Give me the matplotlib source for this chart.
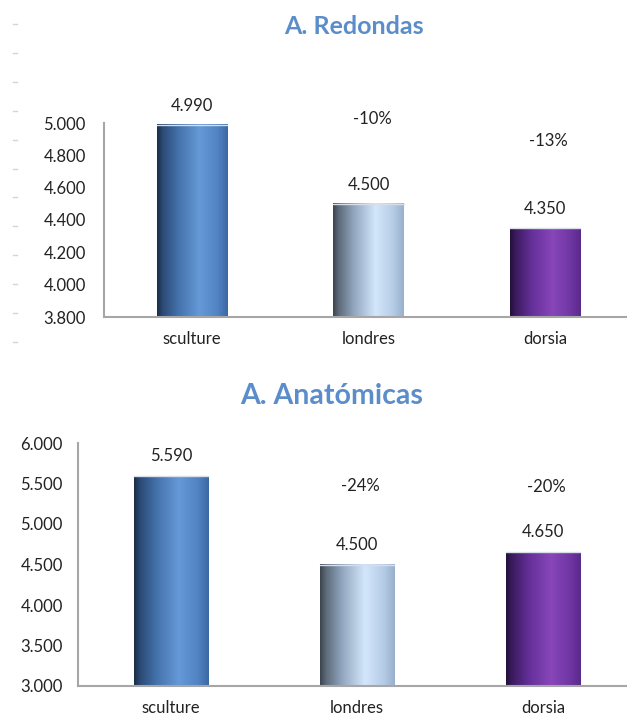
import numpy as np
import matplotlib
matplotlib.use("Agg")
import matplotlib.pyplot as plt
from matplotlib.colors import LinearSegmentedColormap
from matplotlib.lines import Line2D

plt.rcParams['font.family'] = ['Lato', 'DejaVu Sans']

# ---- data ----
categories = ["sculture", "londres", "dorsia"]
redondas_values = [4.990, 4.500, 4.350]
redondas_labels = ["4.990", "4.500", "4.350"]
redondas_pct = ["", "-10%", "-13%"]
anatomicas_values = [5.590, 4.500, 4.650]
anatomicas_labels = ["5.590", "4.500", "4.650"]
anatomicas_pct = ["", "-24%", "-20%"]
redondas_ticks = [3.8, 4.0, 4.2, 4.4, 4.6, 4.8, 5.0]
anatomicas_ticks = [3.0, 3.5, 4.0, 4.5, 5.0, 5.5, 6.0]

# ---- styles ----
gradients = [
    ["#1b2c45", "#2b4a75", "#4472ab", "#6699d8", "#5284c4", "#3a68a2"],
    ["#3c444e", "#5d6a7a", "#93a8c0", "#d3e6fc", "#b6cce6", "#98b0cd"],
    ["#22103a", "#3b1b5e", "#642f99", "#8846b9", "#7036a4", "#592a8a"],
]
stops = [0.0, 0.08, 0.3, 0.6, 0.85, 1.0]
cmaps = [LinearSegmentedColormap.from_list("g%d" % i, list(zip(stops, c)))
         for i, c in enumerate(gradients)]
title_color = "#5b8dca"
spine_color = "#a6a6a6"
text_color = "#222222"
FS = 12

W, H = 627, 717
fig = plt.figure(figsize=(W / 100, H / 100), dpi=100)


def fmt_tick(v):
    return ("%.3f" % v)


def draw_chart(ax, values, labels, pcts, pct_y, ticks, title, title_xy, title_fs,
               label_pad_px, ypad):
    x = np.arange(len(categories))
    ymin, ymax = ticks[0], ticks[-1]
    bars = ax.bar(x, values, width=0.4, color="none", edgecolor="none", zorder=2)
    grad = np.linspace(0, 1, 256).reshape(1, -1)
    for b, cm in zip(bars, cmaps):
        x0, w, h = b.get_x(), b.get_width(), b.get_height()
        ax.imshow(grad, cmap=cm, aspect="auto",
                  extent=[x0, x0 + w, ymin, h], zorder=2, interpolation="bilinear")
        ax.plot([x0, x0 + w], [h, h], color="#d8dde6", lw=1.0, zorder=3)
    ax.set_xlim(-0.5, len(categories) - 0.5)
    ax.set_ylim(ymin, ymax)
    ax.set_yticks(ticks)
    ax.set_yticklabels([fmt_tick(t) for t in ticks])
    ax.set_xticks(x)
    ax.set_xticklabels(categories)
    ax.tick_params(axis="both", length=0, labelsize=FS, colors=text_color)
    ax.tick_params(axis="y", pad=ypad)
    ax.tick_params(axis="x", pad=10)
    for s in ["top", "right"]:
        ax.spines[s].set_visible(False)
    for s in ["left", "bottom"]:
        ax.spines[s].set_color(spine_color)
        ax.spines[s].set_linewidth(1.5)
        ax.spines[s].set_zorder(4)
    for b, lab in zip(bars, labels):
        ax.annotate(lab, (b.get_x() + b.get_width() / 2, b.get_height()),
                    xytext=(0, label_pad_px * 0.72), textcoords="offset points",
                    ha="center", va="center", fontsize=FS, color=text_color,
                    annotation_clip=False)
    for xi, p, py in zip(x, pcts, pct_y):
        if p:
            ax.text(xi + 0.02, py, p, ha="center", va="center", fontsize=FS,
                    color=text_color, clip_on=False)
    fig.text(title_xy[0] / W, 1 - title_xy[1] / H, title, ha="center", va="center",
             fontsize=title_fs, fontweight="bold", color=title_color)


# top chart
ax1 = fig.add_axes([104 / W, 1 - 317 / H, 529 / W, 194 / H])
draw_chart(ax1, redondas_values, redondas_labels, redondas_pct,
           [None, 5.025, 4.889], redondas_ticks, "A. Redondas", (354, 26), 18,
           19, 13)

# bottom chart
ax2 = fig.add_axes([78 / W, 1 - 686 / H, 558 / W, 243 / H])
draw_chart(ax2, anatomicas_values, anatomicas_labels, anatomicas_pct,
           [None, 5.469, 5.457], anatomicas_ticks, "A. Anatómicas", (332, 396), 20.5,
           20, 11)

# faint dash marks along the left edge
for yp in np.arange(24, 345, 28.9):
    fig.add_artist(Line2D([13 / W, 17 / W], [1 - yp / H, 1 - yp / H],
                          color="#d6d6d6", lw=1.0))

fig.savefig("out.png", dpi=100, facecolor="white")
